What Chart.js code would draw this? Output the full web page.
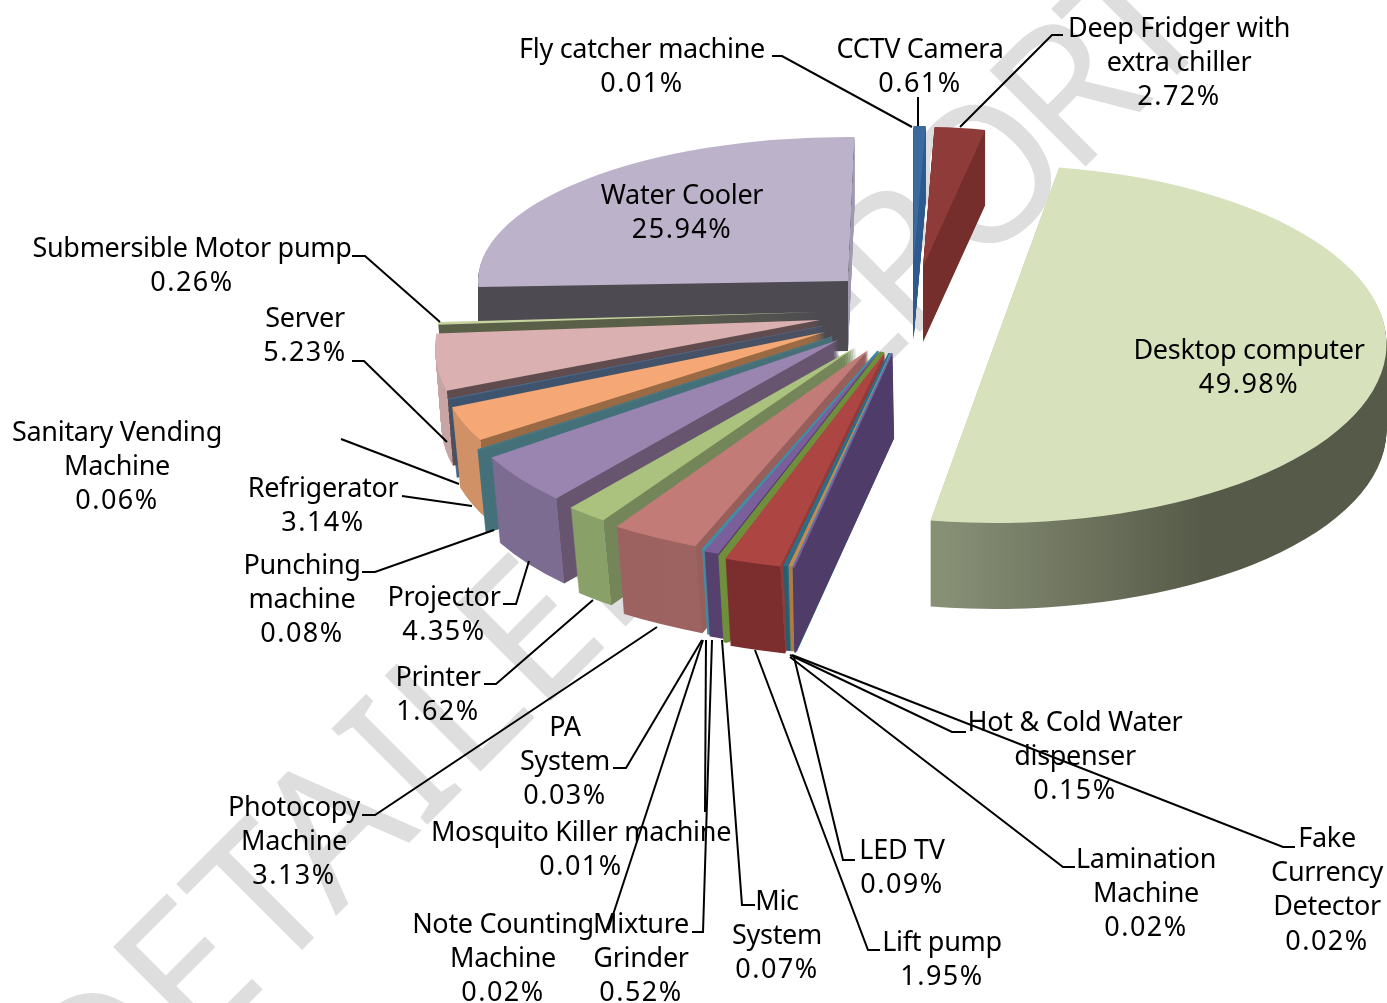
<!DOCTYPE html>
<html>
<head>
<meta charset="utf-8">
<title>Equipment share</title>
<script src="https://cdn.jsdelivr.net/npm/chart.js@4"></script>
<style>
    html, body { margin: 0; padding: 0; background: #fff; }
    canvas { display: block; }
</style>
</head>
<body>
<canvas id="shareChart" width="1387" height="1003"></canvas>
<script>
// Chart data
const categories = ['CCTV Camera', 'Deep Fridger with extra chiller', 'Desktop computer', 'Fake Currency Detector',
    'Fly catcher machine', 'Hot & Cold Water dispenser', 'Lamination Machine', 'LED TV', 'Lift pump', 'Mic System',
    'Mixture Grinder', 'Mosquito Killer machine', 'Note Counting Machine', 'PA System', 'Photocopy Machine', 'Printer',
    'Projector', 'Punching machine', 'Refrigerator', 'Sanitary Vending Machine', 'Server', 'Submersible Motor pump',
    'Water Cooler'];
const shares = [0.61, 2.72, 49.98, 0.02, 0.01, 0.15, 0.02, 0.09, 1.95, 0.07, 0.52, 0.01, 0.02, 0.03, 3.13, 1.62, 4.35,
    0.08, 3.14, 0.06, 5.23, 0.26, 25.94];
const topColors = ['#3a6a9e', '#8f3b39', '#d7e2bc', '#7c5f9e', '#3f9db8', '#c88a4a', '#2f6a8a', '#2a7088', '#ad4542',
    '#6f8f3a', '#7b5f9a', '#3f8fa8', '#6e7f9e', '#3f8fa8', '#c27b76', '#aac27d', '#9a84b0', '#4a7680', '#f5a875',
    '#4a6a8e', '#dab0b0', '#c5d39f', '#bcb3cb'];

// Base radius of the pie; each slice is stretched from it by the 3D look below
const R = 300;

// 3D look per slice: where its tip sits, its stretch, depth, wall colours [far, near, cut]
const sliceLook = [
    { x: 913.5, y: 265, a: 320, b: 139, depth: 75, lean: 0, turn: 0, shear: 0, wall: ['#2d5a8e', '#2d5a8e', '#2d5a8e'], border: 0 },
    { x: 923, y: 267, a: 300, b: 140, depth: 75, lean: 0, turn: 0, shear: 0, wall: ['#762e2c', '#762e2c', '#762e2c'], border: 0 },
    { x: 994.5, y: 344, a: 392, b: 179, depth: 86, lean: 0, turn: -2.5, shear: 0, wall: ['#878f75', '#565a48', '#565a48'], border: 0,
        ramp: [[0.416, '#878f75'], [0.749, '#565a48']] },
    { x: 892, y: 353, a: 476, b: 219, depth: 85, lean: 1.5, turn: 0, shear: 0, wall: ['#4f3c68', '#4f3c68', '#4f3c68'], border: 1 },
    { x: 891, y: 353, a: 468, b: 218, depth: 85, lean: 2, turn: 0, shear: 0, wall: ['#2f8fa8', '#2f8fa8', '#2f8fa8'], border: 1.5 },
    { x: 891, y: 353, a: 468, b: 218, depth: 85, lean: 2, turn: 0, shear: 0, wall: ['#b07a40', '#b07a40', '#b07a40'], border: 1 },
    { x: 890, y: 353, a: 468, b: 218, depth: 85, lean: 3, turn: 0, shear: 0, wall: ['#2f6a8a', '#2f6a8a', '#2f6a8a'], border: 1 },
    { x: 889, y: 353, a: 468, b: 218, depth: 85, lean: 3, turn: 0, shear: 0, wall: ['#22606f', '#22606f', '#22606f'], border: 1 },
    { x: 885, y: 352, a: 468, b: 220, depth: 87, lean: 5, turn: 0, shear: 0, wall: ['#7c2e2e', '#7c2e2e', '#8e3b3b'], border: 0 },
    { x: 882, y: 352, a: 468, b: 218, depth: 85, lean: 5, turn: 0, shear: 0, wall: ['#6f8f3a', '#6f8f3a', '#6f8f3a'], border: 3 },
    { x: 879, y: 351, a: 465, b: 216, depth: 85, lean: 5, turn: 0, shear: 0, wall: ['#55406e', '#55406e', '#55406e'], border: 0 },
    { x: 878, y: 351, a: 462, b: 214, depth: 85, lean: 5, turn: 0, shear: 0, wall: ['#3f8fa8', '#3f8fa8', '#3f8fa8'], border: 1 },
    { x: 878, y: 351, a: 462, b: 214, depth: 85, lean: 5, turn: 0, shear: 0, wall: ['#5a6f8e', '#5a6f8e', '#5a6f8e'], border: 0.5 },
    { x: 878, y: 351, a: 462, b: 214, depth: 85, lean: 5, turn: 0, shear: 0, wall: ['#3f8fa8', '#3f8fa8', '#3f8fa8'], border: 1 },
    { x: 868, y: 350, a: 455, b: 212, depth: 87, lean: 7, turn: 0, shear: 0, wall: ['#9c5f5c', '#9c6360', '#965f5c'], border: 0 },
    { x: 856, y: 347, a: 420, b: 208, depth: 85, lean: 8, turn: 0, shear: -0.118, wall: ['#8aa069', '#8aa069', '#748659'], border: 0 },
    { x: 838, y: 340, a: 394, b: 205, depth: 85, lean: 8, turn: 0, shear: -0.2, wall: ['#7d6c91', '#7d6c91', '#675570'], border: 0 },
    { x: 832, y: 337, a: 400, b: 198, depth: 82, lean: 8, turn: 0, shear: -0.22, wall: ['#44707a', '#44707a', '#44707a'], border: 1.5 },
    { x: 825, y: 332, a: 385, b: 190, depth: 80, lean: 8, turn: 0, shear: -0.26, wall: ['#cf9165', '#cf9165', '#9a6a45'], border: 0 },
    { x: 822, y: 326, a: 385, b: 185, depth: 78, lean: 8, turn: 0, shear: -0.26, wall: ['#3b5470', '#3b5470', '#3b5470'], border: 1 },
    { x: 820, y: 320, a: 380, b: 180, depth: 75, lean: 6, turn: 0, shear: -0.337, wall: ['#c7a5a5', '#c7a5a5', '#604c4e'], border: 0 },
    { x: 820, y: 312, a: 380, b: 170, depth: 72, lean: 4, turn: 0, shear: -0.2, wall: ['#5a6048', '#5a6048', '#5a6048'], border: 0 },
    { x: 848, y: 281, a: 370, b: 144, depth: 70, lean: 0, turn: 1, shear: 0, wall: ['#4d4a52', '#4d4a52', '#a59db3'], border: 0 }
];

// Back to front, so nearer slices cover the walls of the ones behind
const paintOrder = [22, 0, 1, 21, 20, 19, 18, 17, 16, 15, 14, 13, 12, 11, 10, 9, 8, 7, 6, 5, 4, 3, 2];

// Label text per slice: wrapped name lines, centre x, y of first line
const labelLayout = [
    { lines: ['CCTV Camera'], x: 920, y: 50 },
    { lines: ['Deep Fridger with', 'extra chiller'], x: 1179, y: 29 },
    { lines: ['Desktop computer'], x: 1249, y: 351 },
    { lines: ['Fake', 'Currency', 'Detector'], x: 1327, y: 839 },
    { lines: ['Fly catcher machine'], x: 642, y: 50 },
    { lines: ['Hot & Cold Water', 'dispenser'], x: 1075, y: 723 },
    { lines: ['Lamination', 'Machine'], x: 1146, y: 860 },
    { lines: ['LED TV'], x: 902, y: 851 },
    { lines: ['Lift pump'], x: 942, y: 943 },
    { lines: ['Mic', 'System'], x: 777, y: 902 },
    { lines: ['Mixture', 'Grinder'], x: 641, y: 925 },
    { lines: ['Mosquito Killer machine'], x: 581, y: 833 },
    { lines: ['Note Counting', 'Machine'], x: 503, y: 925 },
    { lines: ['PA', 'System'], x: 565, y: 728 },
    { lines: ['Photocopy', 'Machine'], x: 294, y: 808 },
    { lines: ['Printer'], x: 438, y: 678 },
    { lines: ['Projector'], x: 444, y: 598 },
    { lines: ['Punching', 'machine'], x: 302, y: 566 },
    { lines: ['Refrigerator'], x: 323, y: 489 },
    { lines: ['Sanitary Vending', 'Machine'], x: 117, y: 433 },
    { lines: ['Server'], x: 305, y: 319 },
    { lines: ['Submersible Motor pump'], x: 192, y: 249 },
    { lines: ['Water Cooler'], x: 682, y: 196 }
];

// Leader lines from label to slice
const leaderLines = [
    [[772, 56], [782, 56], [912, 127]],
    [[918, 97], [918, 126]],
    [[1063, 35], [1052, 35], [960, 127]],
    [[966, 732], [952, 732], [790, 655]],
    [[1295, 847], [1283, 847], [792, 655]],
    [[1075, 867], [1063, 867], [790, 657]],
    [[855, 860], [843, 860], [794, 657]],
    [[880, 950], [868, 950], [755, 650]],
    [[755, 905], [742, 905], [722, 640]],
    [[692, 932], [703, 932], [712, 640]],
    [[705, 812], [706, 640]],
    [[608, 930], [703, 640]],
    [[613, 768], [626, 768], [702, 640]],
    [[362, 815], [375, 815], [657, 627]],
    [[484, 684], [496, 684], [593, 600]],
    [[503, 604], [516, 604], [529, 561]],
    [[362, 572], [375, 572], [494, 530]],
    [[402, 496], [472, 506]],
    [[341, 439], [459, 484]],
    [[352, 361], [364, 361], [447, 442]],
    [[352, 256], [365, 256], [440, 322]]
];

// Move the drawing context so the arc lands on its place in the 3D pie
function placeSlice(ctx, arc, look, dx, dy) {
    ctx.translate(look.x + dx, look.y + dy);
    ctx.transform(1, 0, look.shear, 1, 0, 0);
    ctx.scale(look.a / R, look.b / R);
    ctx.rotate(look.turn * Math.PI / 180);
    ctx.translate(-arc.x, -arc.y);
}

// Draw an arc element with another fill, without touching its options
function drawArcWith(ctx, arc, fill) {
    const saved = arc.options;
    arc.options = Object.assign({}, saved, { backgroundColor: fill, borderColor: fill });
    arc.draw(ctx);
    arc.options = saved;
}

// Wall fill runs across the full pie width, with a hard stop at the near corner
function wallFill(ctx, arc, look) {
    const fill = ctx.createLinearGradient(arc.x - R, 0, arc.x + R, 0);
    if (look.ramp) {
        look.ramp.forEach(stop => fill.addColorStop(stop[0], stop[1]));
        return fill;
    }
    const corner = (1 + Math.max(Math.cos(arc.startAngle), Math.cos(arc.endAngle))) / 2;
    fill.addColorStop(0, look.wall[0]);
    fill.addColorStop(corner, look.wall[1]);
    fill.addColorStop(corner, look.wall[2]);
    fill.addColorStop(1, look.wall[2]);
    return fill;
}

// Extruded slices are painted by hand from the library's own arc elements
const pie3d = {
    id: 'pie3d',
    beforeDatasetsDraw(chart) {
        const ctx = chart.ctx;
        const arcs = chart.getDatasetMeta(0).data;
        paintOrder.forEach(i => {
            const arc = arcs[i];
            const look = sliceLook[i];
            const fill = wallFill(ctx, arc, look);
            for (let step = look.depth; step > 0; step--) {
                ctx.save();
                placeSlice(ctx, arc, look, look.lean * step / look.depth, step);
                drawArcWith(ctx, arc, fill);
                ctx.restore();
            }
            ctx.save();
            placeSlice(ctx, arc, look, 0, 0);
            arc.draw(ctx);
            ctx.restore();
        });
        return false;
    }
};

// Grey watermark behind everything, second word set tighter to match the original font
const watermark = {
    id: 'watermark',
    beforeDraw(chart) {
        const ctx = chart.ctx;
        ctx.save();
        ctx.translate(98, 1154);
        ctx.rotate(-45 * Math.PI / 180);
        ctx.font = '190px "Noto Sans"';
        ctx.fillStyle = '#dedede';
        ctx.textAlign = 'left';
        ctx.textBaseline = 'alphabetic';
        ctx.fillText('DETAILED', 0, 0);
        ctx.letterSpacing = '-14.5px';
        ctx.fillText('REPORT', 949, 0);
        ctx.restore();
    }
};

// Labels and leader lines on top
const sliceLabels = {
    id: 'sliceLabels',
    afterDraw(chart) {
        const ctx = chart.ctx;
        ctx.save();
        ctx.strokeStyle = '#000';
        ctx.lineWidth = 2;
        leaderLines.forEach(points => {
            ctx.beginPath();
            points.forEach((p, i) => i ? ctx.lineTo(p[0], p[1]) : ctx.moveTo(p[0], p[1]));
            ctx.stroke();
        });
        ctx.font = '27px "Noto Sans"';
        ctx.fillStyle = '#000';
        ctx.textAlign = 'center';
        ctx.textBaseline = 'middle';
        labelLayout.forEach((label, i) => {
            ctx.letterSpacing = '-0.3px';
            label.lines.forEach((line, n) => ctx.fillText(line, label.x, label.y + n * 34.3));
            ctx.letterSpacing = '1.5px';
            ctx.fillText(shares[i].toFixed(2) + '%', label.x, label.y + label.lines.length * 34.3);
        });
        ctx.restore();
    }
};

new Chart(document.getElementById('shareChart'), {
    type: 'pie',
    data: {
        labels: categories,
        datasets: [{
            data: shares,
            backgroundColor: topColors,
            borderColor: topColors,
            borderWidth: sliceLook.map(look => look.border)
        }]
    },
    options: {
        responsive: false,
        animation: false,
        radius: R,
        layout: { padding: 0 },
        events: [],
        plugins: {
            legend: { display: false },
            tooltip: { enabled: false }
        }
    },
    plugins: [watermark, pie3d, sliceLabels]
});
</script>
</body>
</html>
